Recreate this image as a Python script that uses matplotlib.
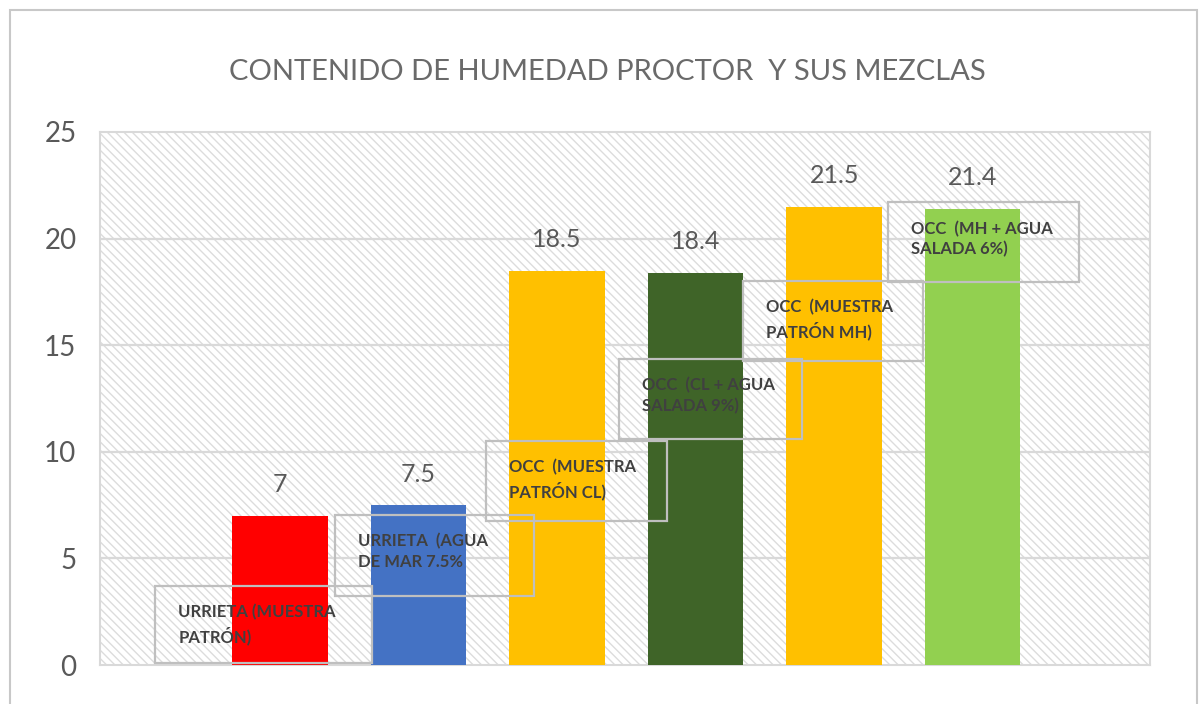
import matplotlib
matplotlib.use("Agg")
import matplotlib.pyplot as plt
from matplotlib.patches import Rectangle

categories = [
    "URRIETA (MUESTRA\nPATRÓN)",
    "URRIETA  (AGUA\nDE MAR 7.5%",
    "OCC  (MUESTRA\nPATRÓN CL)",
    "OCC  (CL + AGUA\nSALADA 9%)",
    "OCC  (MUESTRA\nPATRÓN MH)",
    "OCC  (MH + AGUA\nSALADA 6%)",
]
values = [7, 7.5, 18.5, 18.4, 21.5, 21.4]
value_labels = ["7", "7.5", "18.5", "18.4", "21.5", "21.4"]
yticks = [0, 5, 10, 15, 20, 25]
title = "CONTENIDO DE HUMEDAD PROCTOR  Y SUS MEZCLAS"

colors = ["#FF0000", "#4472C4", "#FFC000", "#3F6428", "#FFC000", "#92D050"]
# callout boxes (left, bottom, width, height) in data coordinates (layout only)
boxes = [(-0.90, 0.09, 1.56, 3.61),
         (0.40, 3.23, 1.43, 3.80),
         (1.49, 6.75, 1.30, 3.75),
         (2.45, 10.60, 1.32, 3.75),
         (3.34, 14.25, 1.30, 3.75),
         (4.39, 17.96, 1.38, 3.74)]

plt.rcParams['font.family'] = ['Lato', 'DejaVu Sans']
plt.rcParams['hatch.linewidth'] = 1.0
plt.rcParams['hatch.color'] = '#DCDCDC'

fig = plt.figure(figsize=(12, 7.04), dpi=100)
# figure frame
fig.patches.append(Rectangle((10/1200, -0.05), 1187/1200, 1 - 10/704 + 0.05,
                             transform=fig.transFigure, fill=False,
                             edgecolor='#C8C8C8', linewidth=1.5, zorder=0))

ax = fig.add_axes([100/1200, 1 - 665/704, 1050/1200, (665 - 132)/704])
ax.set_facecolor('white')
ax.add_patch(Rectangle((0, 0), 1, 1, transform=ax.transAxes, facecolor='white',
                       hatch='\\\\\\\\', edgecolor='#DCDCDC', linewidth=0, zorder=0))

x = list(range(len(values)))
ax.bar(x, values, width=0.69, color=colors, zorder=3)
ax.set_xlim(-1.30, 6.28)
ax.set_ylim(0, 25)
ax.set_yticks(yticks)
ax.set_yticklabels([str(t) for t in yticks], fontsize=20, color='#595959')
ax.tick_params(axis='y', length=0, pad=17)
ax.set_xticks([])
for yv in yticks[1:-1]:
    ax.axhline(yv, color='#D9D9D9', linewidth=1.6, zorder=1)
for s in ax.spines.values():
    s.set_color('#D9D9D9')
    s.set_linewidth(1.5)

for xi, v, lab in zip(x, values, value_labels):
    ax.annotate(lab, (xi, v), xytext=(0, 14), textcoords='offset points',
                ha='center', va='bottom', fontsize=18, color='#595959', zorder=5)

for (bx, by, bw, bh), txt in zip(boxes, categories):
    ax.add_patch(Rectangle((bx, by), bw, bh, fill=False, edgecolor='#BFBFBF',
                           linewidth=1.6, zorder=4))
    ax.text(bx + 0.165, by + bh - 0.85, txt, ha='left', va='top', fontsize=12,
            color='#404040', fontweight='bold', linespacing=1.35, zorder=5)

fig.text(607/1200, 1 - 72/704, title, ha='center', va='center', fontsize=21,
         color='#6A6A6A')

fig.savefig('out.png', dpi=100)
